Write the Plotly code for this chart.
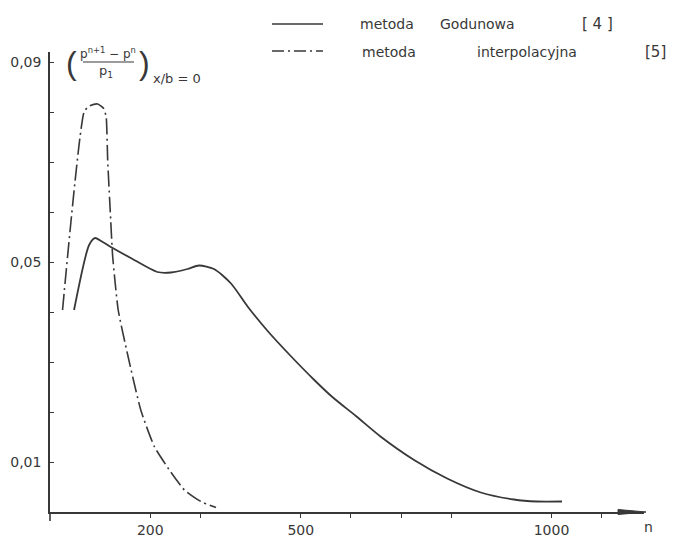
import plotly.graph_objects as go

# ---------------- data ----------------
godunov_n = [48, 78, 90, 105, 125, 161, 214, 241, 274, 297, 327, 361, 394, 434,
             480, 527, 563, 610, 659, 726, 792, 859, 925, 971, 1021]
godunov_v = [0.0404, 0.0534, 0.0548, 0.0540, 0.0528, 0.0508, 0.0480, 0.0479, 0.0486,
             0.0493, 0.0486, 0.0457, 0.0411, 0.0362, 0.0312, 0.0264, 0.0230, 0.0192,
             0.0151, 0.0104, 0.0067, 0.0039, 0.0025, 0.0021, 0.0021]

interp_n = [25, 68, 78, 95, 107, 112, 115, 120, 125, 136, 155, 181, 208, 238, 268, 301, 331]
interp_v = [0.0404, 0.0800, 0.0812, 0.0816, 0.0807, 0.0790, 0.0704, 0.0604, 0.0511,
            0.0404, 0.0314, 0.0204, 0.0131, 0.0084, 0.0044, 0.0021, 0.0009]

x_tick_vals = [200, 500, 1000]
x_tick_text = ["200", "500", "1000"]
x_minor_vals = [300, 600, 700, 800, 1100]
y_tick_vals = [0.01, 0.05, 0.09]
y_tick_text = ["0,01", "0,05", "0,09"]
y_minor_vals = [0.02, 0.03, 0.04, 0.06, 0.07, 0.08]

legend_names = ["metoda Godunowa", "metoda interpolacyjna"]
legend_refs = ["[ 4 ]", "[5]"]

# ---------------- layout geometry ----------------
OFF = 8                      # page body margin of the browser
W, H = 676 - OFF, 537 - OFF  # figure fills the rest of the window
L, T = 50 - OFF, 52 - OFF    # plot area: x 50..644, y 52..512 (window pixels)
R = W - (644 - OFF)
B = H - (512 - OFF)
PW, PH = W - L - R, H - T - B
INK = "#383838"
FONT = "DejaVu Sans"


def px(x, y):
    """window pixel position -> paper coordinates"""
    x -= OFF
    y -= OFF
    return (x - L) / PW, (H - B - y) / PH


fig = go.Figure()
fig.add_trace(go.Scatter(x=godunov_n, y=godunov_v, mode="lines",
                         line=dict(color=INK, width=1.8, shape="spline", smoothing=0.7),
                         name=legend_names[0], showlegend=False))
fig.add_trace(go.Scatter(x=interp_n, y=interp_v, mode="lines",
                         line=dict(color=INK, width=1.6, shape="spline", smoothing=0.5,
                                   dash="16px,4px,2px,4px"),
                         name=legend_names[1], showlegend=False))

shapes = []
annotations = []

# y-axis extension below x-axis
x0, y0 = px(50, 512)
x1, y1 = px(50, 521)
shapes.append(dict(type="line", xref="paper", yref="paper", x0=x0, y0=y0, x1=x1, y1=y1,
                   line=dict(color=INK, width=1.6)))
# arrow head at end of x axis
a1 = px(618, 509.5)
a2 = px(646, 512)
a3 = px(618, 514.5)
shapes.append(dict(type="path", xref="paper", yref="paper",
                   path=f"M {a1[0]},{a1[1]} L {a2[0]},{a2[1]} L {a3[0]},{a3[1]} Z",
                   fillcolor=INK, line=dict(color=INK, width=1)))

# legend line samples
for yy, dash in [(24, "solid"), (51, "12px,4px,2px,4px")]:
    p0 = px(272, yy)
    p1 = px(323, yy)
    shapes.append(dict(type="line", xref="paper", yref="paper", x0=p0[0], y0=p0[1],
                       x1=p1[0], y1=p1[1], line=dict(color=INK, width=1.6, dash=dash)))


def txt(text, x, y, size=14, xanchor="center", family=FONT):
    xp, yp = px(x, y)
    annotations.append(dict(text=text, x=xp, y=yp, xref="paper", yref="paper",
                            xanchor=xanchor, yanchor="middle", showarrow=False,
                            font=dict(family=family, size=size, color=INK)))


# legend texts (each word placed at its position in the reference)
w1 = legend_names[0].split(" ")
w2 = legend_names[1].split(" ")
txt(w1[0], 387, 24)
txt(w1[1], 477, 24)
txt(legend_refs[0], 597, 24, size=15)
txt(w2[0], 389, 52)
txt(w2[1], 527, 52)
txt(legend_refs[1], 655, 52, size=15)

# y-axis quantity label: ((p^{n+1} - p^n) / p_1)_{x/b=0}
txt("(", 71, 63, size=32, family="Liberation Sans")
txt("p<sup>n+1</sup> \u2212 p<sup>n</sup>", 108, 53, size=12)
f0 = px(83, 62)
f1 = px(134, 62)
shapes.append(dict(type="line", xref="paper", yref="paper", x0=f0[0], y0=f0[1],
                   x1=f1[0], y1=f1[1], line=dict(color=INK, width=1.2)))
txt("p<sub>1</sub>", 106, 72, size=13)
txt(")", 144, 63, size=32, family="Liberation Sans")
txt("x/b = 0", 151, 78, size=13, xanchor="left")

# x-axis variable
txt("n", 648, 527, size=14)

fig.update_layout(
    width=W, height=H, autosize=False,
    margin=dict(l=L, r=R, t=T, b=B, pad=0),
    paper_bgcolor="white", plot_bgcolor="white",
    font=dict(family=FONT, size=14, color=INK),
    shapes=shapes, annotations=annotations,
    xaxis=dict(range=[0, PW / 0.5015], showgrid=False, zeroline=False, automargin=False,
               showline=True, linecolor=INK, linewidth=1.6,
               ticks="outside", ticklen=4, tickwidth=1.2, tickcolor=INK,
               tickmode="array", tickvals=x_tick_vals, ticktext=x_tick_text,
               minor=dict(tickmode="array", tickvals=x_minor_vals, ticks="outside",
                          ticklen=4, tickwidth=1.2, tickcolor=INK, showgrid=False),
               tickfont=dict(family=FONT, size=14, color=INK)),
    yaxis=dict(range=[0, PH / 5000], showgrid=False, zeroline=False, automargin=False,
               showline=True, linecolor=INK, linewidth=1.6,
               ticks="inside", ticklen=4, tickwidth=1.2, tickcolor=INK,
               tickmode="array", tickvals=y_tick_vals, ticktext=y_tick_text,
               minor=dict(tickmode="array", tickvals=y_minor_vals, ticks="inside",
                          ticklen=4, tickwidth=1.2, tickcolor=INK, showgrid=False),
               ticklabelstandoff=4,
               tickfont=dict(family=FONT, size=14, color=INK)),
)

fig.write_html("out.html")
